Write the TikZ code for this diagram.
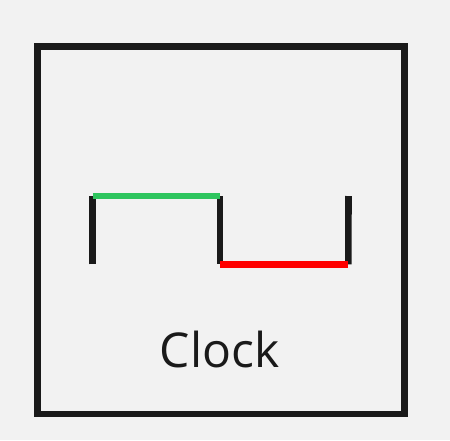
\documentclass[tikz,border=0pt]{standalone}
\usepackage{fontspec}
\setmainfont{Open Sans}
\usepackage{xcolor}
\definecolor{fondo}{HTML}{F2F2F2}
\definecolor{tinta}{HTML}{1A1A1A}
\definecolor{verde}{HTML}{2EC55E}
\definecolor{rojo}{HTML}{FF0000}

\begin{document}
\begin{tikzpicture}[
  x=1pt, y=-1pt,
  marco/.style={draw=tinta, line width=6.6pt},
  tramo/.style={draw=tinta, line width=6.6pt},
  alto/.style={draw=verde, line width=6.6pt},
  bajo/.style={draw=rojo, line width=6.6pt},
  etiqueta/.style={font=\fontsize{48}{50}\selectfont, text=tinta, inner sep=0pt}
]
\fill[fondo] (0,0) rectangle (450,440);
\useasboundingbox (0,0) rectangle (450,440);
\draw[marco] (37.5,46.7) rectangle (404.3,413.8);
% senal de reloj
\coordinate (a0) at (92.5,264.3);
\coordinate (a1) at (92.5,196);
\coordinate (b1) at (220,196);
\coordinate (b0) at (220,264.3);
\coordinate (c0) at (348.3,264.3);
\coordinate (c1) at (348.5,196);
\draw[tramo] (a0) -- (a1);
\draw[tramo] (b1) -- (b0);
\draw[tramo] (c0) -- (c1);
\draw[alto] (a1) -- (b1);
\draw[bajo] (b0) -- (c0);
\node[etiqueta, anchor=base] (reloj) at (219.5,367.7) {Clock};
\end{tikzpicture}
\end{document}
